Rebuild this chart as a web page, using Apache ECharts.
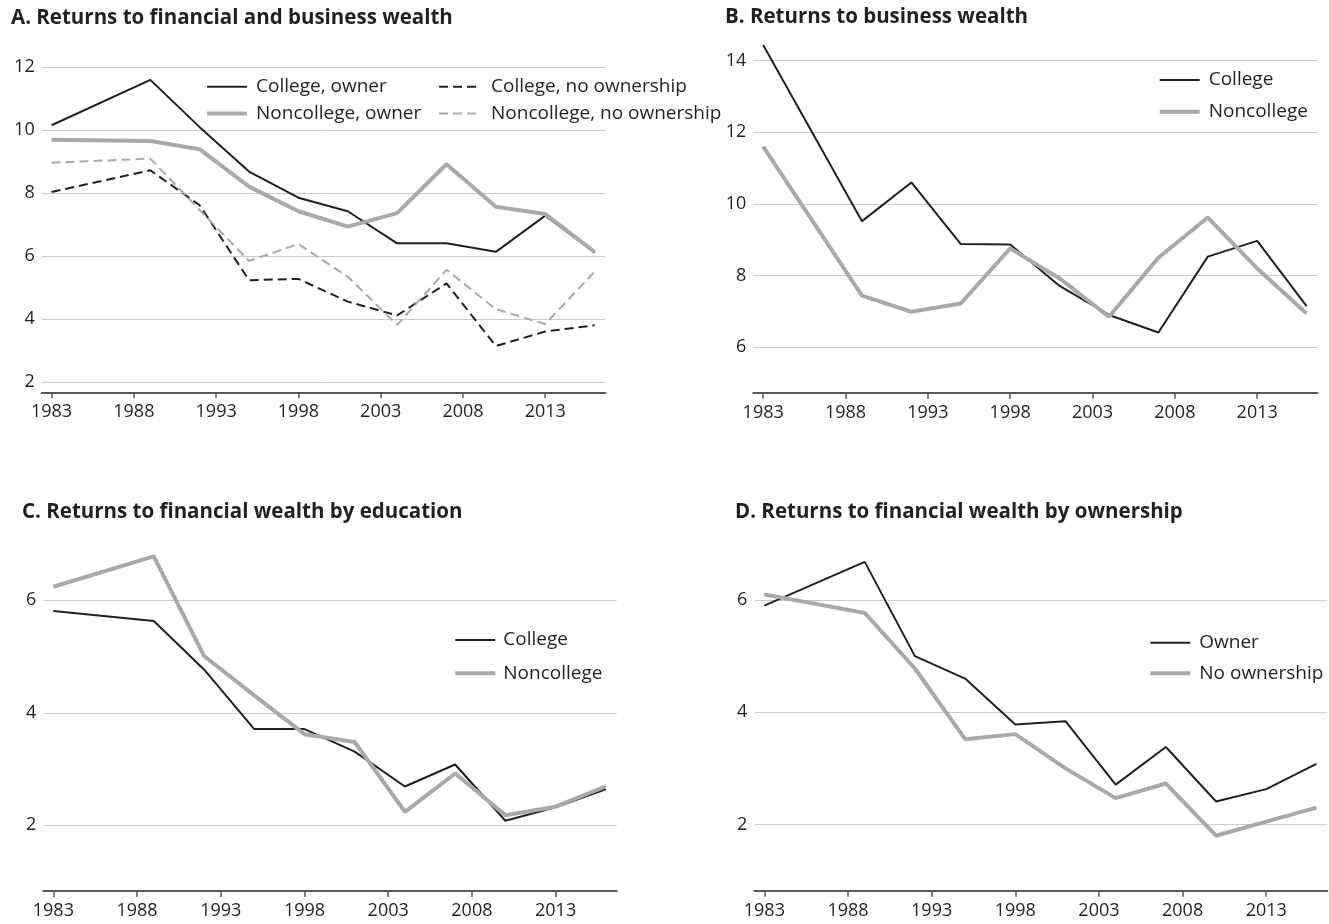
<!DOCTYPE html>
<html>
<head>
<meta charset="utf-8">
<title>Returns to wealth</title>
<script src="https://cdn.jsdelivr.net/npm/echarts@6/dist/echarts.min.js"></script>
<style>
  html, body { margin: 0; padding: 0; background: #ffffff; }
  #chart { width: 1329px; height: 924px; }
</style>
</head>
<body>
<div id="chart"></div>
<script>
// Survey years shared by every panel
const years = [1983, 1989, 1992, 1995, 1998, 2001, 2004, 2007, 2010, 2013, 2016];
const yearTicks = [1983, 1988, 1993, 1998, 2003, 2008, 2013];

// Panel A: returns to financial and business wealth
const collegeOwnerA     = [10.16, 11.60, 10.10, 8.69, 7.86, 7.43, 6.41, 6.41, 6.14, 7.29, 6.12];
const noncollegeOwnerA  = [9.70, 9.66, 9.40, 8.21, 7.43, 6.94, 7.37, 8.92, 7.57, 7.34, 6.14];
const collegeNoOwnA     = [8.04, 8.73, 7.62, 5.24, 5.28, 4.56, 4.12, 5.14, 3.15, 3.61, 3.81];
const noncollegeNoOwnA  = [8.97, 9.10, 7.47, 5.85, 6.39, 5.35, 3.82, 5.57, 4.32, 3.85, 5.51];
const ticksA = [2, 4, 6, 8, 10, 12];

// Panel B: returns to business wealth
const collegeB    = [14.44, 9.52, 10.60, 8.88, 8.87, 7.71, 6.90, 6.41, 8.53, 8.97, 7.15];
const noncollegeB = [11.60, 7.44, 6.99, 7.22, 8.76, 7.92, 6.85, 8.50, 9.62, 8.20, 6.94];
const ticksB = [6, 8, 10, 12, 14];

// Panel C: returns to financial wealth by education
const collegeC    = [5.81, 5.63, 4.77, 3.71, 3.71, 3.31, 2.69, 3.08, 2.08, 2.32, 2.64];
const noncollegeC = [6.24, 6.78, 5.01, 4.31, 3.62, 3.48, 2.24, 2.92, 2.18, 2.33, 2.69];
const ticksC = [2, 4, 6];

// Panel D: returns to financial wealth by ownership
const ownerD   = [5.90, 6.68, 5.00, 4.60, 3.78, 3.84, 2.71, 3.38, 2.41, 2.63, 3.08];
const noOwnD   = [6.10, 5.77, 4.78, 3.52, 3.61, 3.00, 2.47, 2.73, 1.80, 2.05, 2.30];
const ticksD = [2, 4, 6];

const FONT = "'Open Sans', 'Noto Sans', sans-serif";
const INK = '#231f20';
const GREY = '#a7a9ac';
const GRID_LINE = '#c9cacc';
const AXIS_LINE = '#58595b';

const pairs = (vals) => years.map((y, i) => [y, vals[i]]);

function xAxisFor(gridIndex) {
  return {
    type: 'value', gridIndex,
    min: 1982.4, max: 2016.65,
    axisLine: { show: true, lineStyle: { color: AXIS_LINE, width: 2 } },
    axisTick: { show: true, length: 6, lineStyle: { color: AXIS_LINE, width: 1.5 }, customValues: yearTicks },
    axisLabel: {
      customValues: yearTicks, color: INK, fontFamily: FONT, fontSize: 18, margin: 11,
      formatter: (v) => String(v)
    },
    splitLine: { show: false }
  };
}

function yAxisFor(gridIndex, min, max, ticks) {
  return {
    type: 'value', gridIndex, min, max,
    axisLine: { show: false },
    axisTick: { show: false, customValues: ticks },
    axisLabel: {
      customValues: ticks, color: INK, fontFamily: FONT, fontSize: 18, margin: 7,
      formatter: (v) => String(v)
    },
    splitLine: { show: true, lineStyle: { color: GRID_LINE, width: 1 } }
  };
}

function line(name, vals, idx, style) {
  return {
    name, type: 'line', xAxisIndex: idx, yAxisIndex: idx,
    data: pairs(vals), symbol: 'none', showSymbol: false,
    itemStyle: { color: style.color },
    lineStyle: style, silent: true
  };
}

const solidInk   = { color: INK, width: 2 };
const solidGrey  = { color: GREY, width: 4 };
const dashedInk  = { color: INK, width: 2, type: [9, 5] };
const dashedGrey = { color: GREY, width: 2, type: [9, 5] };

// legend entry whose line sample uses the series' own stroke
const entry = (name, style) => ({ name, lineStyle: { width: style.width } });

function legendFor(left, top, gap, pad, items) {
  return {
    orient: 'vertical', left, top, padding: 0,
    itemWidth: 40, itemHeight: 14, itemGap: gap,
    selectedMode: false,
    // only the line sample is shown, not the point marker
    itemStyle: { opacity: 0 },
    textStyle: { color: INK, fontFamily: FONT, fontSize: 19, lineHeight: 20, padding: [0, 0, 0, pad] },
    data: items
  };
}

function titleFor(text, left, top) {
  return {
    text, left, top, padding: 0,
    textStyle: { color: INK, fontFamily: FONT, fontSize: 20.5, fontWeight: 'bold' }
  };
}

const option = {
  animation: false,
  backgroundColor: '#ffffff',
  title: [
    titleFor('A. Returns to financial and business wealth', 11, 8),
    titleFor('B. Returns to business wealth', 725, 7),
    titleFor('C. Returns to financial wealth by education', 22, 502),
    titleFor('D. Returns to financial wealth by ownership', 735, 502)
  ],
  grid: [
    { left: 41.7, top: 67.3, width: 563.6, height: 325 },
    { left: 753.3, top: 42.8, width: 564, height: 349.9 },
    { left: 43.3, top: 544, width: 573.4, height: 347 },
    { left: 754.3, top: 543.9, width: 573, height: 346.8 }
  ],
  xAxis: [xAxisFor(0), xAxisFor(1), xAxisFor(2), xAxisFor(3)],
  yAxis: [
    yAxisFor(0, 1.68, 12, ticksA),
    yAxisFor(1, 4.73, 14.5, ticksB),
    yAxisFor(2, 0.832, 7, ticksC),
    yAxisFor(3, 0.82, 7, ticksD)
  ],
  legend: [
    legendFor(205, 76.7, 6.7, 4, [entry('College, owner', solidInk), entry('Noncollege, owner', solidGrey)]),
    legendFor(438, 76.7, 6.7, 7, [entry('College, no ownership', dashedInk), entry('Noncollege, no ownership', dashedGrey)]),
    legendFor(1157.7, 70, 11.7, 4, [entry('College', solidInk), entry('Noncollege', solidGrey)]),
    legendFor(453.3, 630, 13.3, 3, [entry('College', solidInk), entry('Noncollege', solidGrey)]),
    legendFor(1148.3, 632.7, 10.6, 4, [entry('Owner', solidInk), entry('No ownership', solidGrey)])
  ],
  series: [
    line('College, owner', collegeOwnerA, 0, solidInk),
    line('Noncollege, owner', noncollegeOwnerA, 0, solidGrey),
    line('College, no ownership', collegeNoOwnA, 0, dashedInk),
    line('Noncollege, no ownership', noncollegeNoOwnA, 0, dashedGrey),
    line('College', collegeB, 1, solidInk),
    line('Noncollege', noncollegeB, 1, solidGrey),
    line('College', collegeC, 2, solidInk),
    line('Noncollege', noncollegeC, 2, solidGrey),
    line('Owner', ownerD, 3, solidInk),
    line('No ownership', noOwnD, 3, solidGrey)
  ]
};

const chart = echarts.init(document.getElementById('chart'), null, { renderer: 'canvas' });
chart.setOption(option);
</script>
</body>
</html>
